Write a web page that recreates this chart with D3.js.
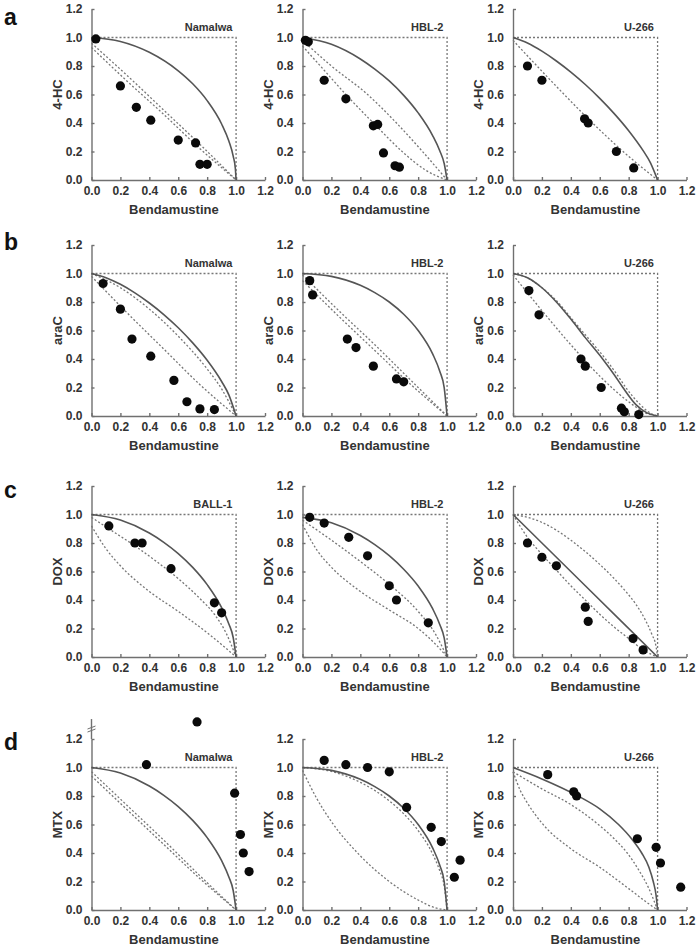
<!DOCTYPE html>
<html><head><meta charset="utf-8">
<script src="https://cdn.jsdelivr.net/npm/d3@7"></script>
<style>body{margin:0;background:#fff} svg{display:block}</style>
</head><body><svg id="c" width="699" height="950"></svg>
<script>
// ---------- DATA ----------
const rowLetters = ["a","b","c","d"];
const drugNames = ["4-HC","araC","DOX","MTX"];
const cellLines = [["Namalwa","HBL-2","U-266"],["Namalwa","HBL-2","U-266"],["BALL-1","HBL-2","U-266"],["Namalwa","HBL-2","U-266"]];
const xTitle = "Bendamustine";
const tickValues = [0,0.2,0.4,0.6,0.8,1.0,1.2];
const tickLabels = ["0.0","0.2","0.4","0.6","0.8","1.0","1.2"];
const boxCorners = [[0,1],[1,1],[1,0]];

// row a : 4-HC
const a1_points = [[0.03,0.99],[0.20,0.66],[0.31,0.51],[0.41,0.42],[0.60,0.28],[0.72,0.26],[0.75,0.11],[0.80,0.11]];
const a1_solid  = [[0,1],[0.2,0.972],[0.4,0.896],[0.6,0.766],[0.7,0.675],[0.8,0.557],[0.9,0.393],[0.95,0.273],[0.98,0.168],[0.995,0.08],[1,0]];
const a1_dotA   = [[0,0.96],[0.25,0.73],[0.5,0.49],[0.75,0.25],[1,0]];
const a1_dotB   = [[0,0.93],[0.25,0.69],[0.5,0.46],[0.75,0.22],[1,0]];

const a2_points = [[0.02,0.98],[0.04,0.97],[0.15,0.70],[0.30,0.57],[0.49,0.38],[0.52,0.39],[0.56,0.19],[0.64,0.10],[0.67,0.09]];
const a2_solid  = [[0,1],[0.2,0.952],[0.4,0.849],[0.5,0.778],[0.6,0.695],[0.7,0.594],[0.8,0.471],[0.9,0.312],[0.95,0.204],[0.98,0.116],[1,0]];
const a2_dotA   = [[0,0.98],[0.2,0.8],[0.45,0.6],[0.65,0.4],[0.83,0.2],[1,0]];
const a2_dotB   = [[0,0.94],[0.15,0.77],[0.3,0.6],[0.5,0.39],[0.7,0.19],[0.85,0.07],[1,0]];

const a3_points = [[0.10,0.80],[0.20,0.70],[0.495,0.43],[0.52,0.40],[0.715,0.20],[0.835,0.085]];
const a3_solid  = [[0,1],[0.1,0.961],[0.2,0.904],[0.3,0.835],[0.4,0.757],[0.5,0.67],[0.6,0.573],[0.7,0.466],[0.8,0.346],[0.9,0.206],[0.95,0.122],[1,0]];
const a3_dotA   = [[0,0.98],[0.25,0.71],[0.5,0.45],[0.75,0.21],[1,0]];

// row b : araC
const b1_points = [[0.08,0.93],[0.20,0.75],[0.28,0.54],[0.41,0.42],[0.57,0.25],[0.66,0.10],[0.75,0.05],[0.85,0.045]];
const b1_solid  = [[0,1],[0.1,0.971],[0.2,0.924],[0.3,0.864],[0.4,0.793],[0.5,0.712],[0.6,0.619],[0.7,0.513],[0.8,0.391],[0.9,0.242],[0.95,0.148],[1,0]];
const b1_dotA   = [[0,1],[0.2,0.9],[0.4,0.75],[0.6,0.56],[0.8,0.33],[0.9,0.19],[1,0]];
const b1_dotB   = [[0,0.98],[0.25,0.72],[0.5,0.47],[0.75,0.22],[1,0]];

const b2_points = [[0.05,0.95],[0.07,0.85],[0.31,0.54],[0.37,0.48],[0.49,0.35],[0.65,0.26],[0.70,0.24]];
const b2_solid  = [[0,1],[0.2,0.98],[0.4,0.917],[0.5,0.866],[0.6,0.8],[0.7,0.714],[0.8,0.6],[0.9,0.436],[0.95,0.312],[0.98,0.199],[1,0]];
const b2_dotA   = [[0,0.99],[0.25,0.74],[0.5,0.5],[0.75,0.25],[1,0]];
const b2_dotB   = [[0,0.95],[0.25,0.7],[0.5,0.46],[0.75,0.22],[1,0]];

const b3_points = [[0.11,0.88],[0.18,0.71],[0.47,0.40],[0.50,0.35],[0.61,0.20],[0.75,0.055],[0.77,0.03],[0.87,0.01]];
const b3_solid  = [[0,1],[0.1,0.97],[0.2,0.9],[0.3,0.8],[0.4,0.68],[0.5,0.55],[0.62,0.4],[0.7,0.29],[0.76,0.2],[0.85,0.08],[0.93,0.02],[1,0]];
const b3_dotA   = [[0,1],[0.1,0.97],[0.2,0.9],[0.3,0.81],[0.4,0.69],[0.5,0.57],[0.64,0.4],[0.72,0.29],[0.78,0.2],[0.88,0.08],[0.95,0.02],[1,0]];
const b3_dotB   = [[0,0.99],[0.2,0.74],[0.4,0.5],[0.6,0.28],[0.8,0.1],[0.92,0.02],[1,0]];

// row c : DOX
const c1_points = [[0.12,0.92],[0.30,0.80],[0.35,0.80],[0.55,0.62],[0.85,0.38],[0.90,0.31]];
const c1_solid  = [[0,1],[0.2,0.961],[0.4,0.87],[0.5,0.805],[0.6,0.726],[0.7,0.629],[0.8,0.508],[0.9,0.346],[0.95,0.232],[0.98,0.137],[1,0]];
const c1_dotA   = [[0,0.98],[0.15,0.88],[0.3,0.78],[0.45,0.67],[0.6,0.55],[0.75,0.41],[0.85,0.3],[0.93,0.17],[1,0]];
const c1_dotB   = [[0,0.92],[0.1,0.76],[0.2,0.64],[0.4,0.46],[0.6,0.32],[0.8,0.17],[0.92,0.07],[1,0]];

const c2_points = [[0.05,0.98],[0.15,0.94],[0.32,0.84],[0.45,0.71],[0.60,0.50],[0.65,0.40],[0.87,0.24]];
const c2_solid  = [[0,0.98],[0.2,0.942],[0.4,0.853],[0.5,0.789],[0.6,0.711],[0.7,0.616],[0.8,0.498],[0.9,0.339],[0.95,0.227],[0.98,0.134],[1,0]];
const c2_dotA   = [[0,0.96],[0.2,0.82],[0.4,0.67],[0.6,0.51],[0.8,0.32],[0.92,0.16],[1,0]];
const c2_dotB   = [[0,0.93],[0.1,0.75],[0.2,0.63],[0.4,0.46],[0.6,0.33],[0.8,0.2],[0.92,0.09],[1,0]];

const c3_points = [[0.10,0.80],[0.20,0.70],[0.30,0.64],[0.50,0.35],[0.52,0.25],[0.83,0.13],[0.90,0.05]];
const c3_solid  = [[0,1],[0.5,0.5],[1,0]];
const c3_dotA   = [[0,1],[0.1,0.98],[0.2,0.945],[0.3,0.89],[0.4,0.82],[0.5,0.74],[0.6,0.65],[0.7,0.55],[0.78,0.46],[0.85,0.37],[0.91,0.27],[0.96,0.16],[0.99,0.07],[1,0]];
const c3_dotB   = [[0,1],[0.1,0.84],[0.2,0.72],[0.3,0.61],[0.4,0.5],[0.5,0.4],[0.6,0.3],[0.7,0.21],[0.8,0.13],[0.9,0.05],[1,0]];

// row d : MTX
const d1_points = [[0.38,1.02],[0.73,1.32],[0.99,0.82],[1.03,0.53],[1.05,0.40],[1.09,0.27]];
const d1_solid  = [[0,1],[0.2,0.961],[0.4,0.87],[0.5,0.805],[0.6,0.726],[0.7,0.629],[0.8,0.508],[0.9,0.346],[0.95,0.232],[0.98,0.137],[1,0]];
const d1_dotA   = [[0,0.97],[0.25,0.73],[0.5,0.49],[0.75,0.24],[1,0]];
const d1_dotB   = [[0,0.94],[0.25,0.7],[0.5,0.46],[0.75,0.22],[1,0]];

const d2_points = [[0.15,1.05],[0.30,1.02],[0.45,1.00],[0.60,0.97],[0.72,0.72],[0.89,0.58],[0.96,0.48],[1.05,0.23],[1.09,0.35]];
const d2_solid  = [[0,1],[0.2,0.98],[0.4,0.917],[0.5,0.866],[0.6,0.8],[0.7,0.714],[0.8,0.6],[0.9,0.436],[0.95,0.312],[0.98,0.199],[1,0]];
const d2_dotA   = [[0,1],[0.2,0.972],[0.4,0.896],[0.6,0.766],[0.7,0.675],[0.8,0.557],[0.9,0.393],[0.95,0.273],[0.98,0.168],[1,0]];
const d2_dotB   = [[0,0.98],[0.1,0.78],[0.2,0.62],[0.4,0.38],[0.6,0.2],[0.8,0.07],[0.92,0.015],[1,0]];

const d3_points = [[0.24,0.95],[0.42,0.83],[0.44,0.80],[0.86,0.50],[0.99,0.44],[1.02,0.33],[1.16,0.16]];
const d3_solid  = [[0,1],[0.2,0.92],[0.45,0.8],[0.6,0.71],[0.73,0.6],[0.82,0.5],[0.89,0.4],[0.94,0.3],[0.97,0.2],[0.99,0.1],[1,0]];
const d3_dotA   = [[0,0.97],[0.2,0.85],[0.4,0.74],[0.59,0.6],[0.7,0.5],[0.79,0.4],[0.87,0.28],[0.94,0.15],[1,0]];
const d3_dotB   = [[0,0.97],[0.05,0.84],[0.1,0.75],[0.2,0.61],[0.4,0.43],[0.6,0.3],[0.8,0.15],[0.93,0.05],[1,0]];

const brokenAxisTop = 1.34;   // d / Namalwa axis extends past 1.2
const brokenAxisMark = 1.27;

// ---------- LAYOUT ----------
const panels = [
  {r:0,c:0,pts:a1_points,solid:a1_solid,dots:[a1_dotA,a1_dotB]},
  {r:0,c:1,pts:a2_points,solid:a2_solid,dots:[a2_dotA,a2_dotB]},
  {r:0,c:2,pts:a3_points,solid:a3_solid,dots:[a3_dotA]},
  {r:1,c:0,pts:b1_points,solid:b1_solid,dots:[b1_dotA,b1_dotB]},
  {r:1,c:1,pts:b2_points,solid:b2_solid,dots:[b2_dotA,b2_dotB]},
  {r:1,c:2,pts:b3_points,solid:b3_solid,dots:[b3_dotA,b3_dotB]},
  {r:2,c:0,pts:c1_points,solid:c1_solid,dots:[c1_dotA,c1_dotB]},
  {r:2,c:1,pts:c2_points,solid:c2_solid,dots:[c2_dotA,c2_dotB]},
  {r:2,c:2,pts:c3_points,solid:c3_solid,dots:[c3_dotA,c3_dotB]},
  {r:3,c:0,pts:d1_points,solid:d1_solid,dots:[d1_dotA,d1_dotB],broken:true},
  {r:3,c:1,pts:d2_points,solid:d2_solid,dots:[d2_dotA,d2_dotB]},
  {r:3,c:2,pts:d3_points,solid:d3_solid,dots:[d3_dotA,d3_dotB]},
];
const colX0 = [91.5, 302.5, 513];
const rowY0 = [180, 416, 657, 910];
const plotW = 173.5, plotH = 171;
const letterY = [25, 250, 498, 750];

const FONT = "'Liberation Sans', Arial, Helvetica, sans-serif";
const TXT = "#333";
const AX = "#707070";

const svg = d3.select("#c");
svg.append("rect").attr("width",699).attr("height",950).attr("fill","#fff");

rowLetters.forEach((L,i)=>{
  svg.append("text").attr("x",4).attr("y",letterY[i]).text(L)
    .attr("font-family",FONT).attr("font-weight","bold").attr("font-size",23).attr("fill","#111");
});

const line = (x,y) => d3.line().x(d=>x(d[0])).y(d=>y(d[1])).curve(d3.curveMonotoneX);

panels.forEach(p=>{
  const x0 = colX0[p.c], y0 = rowY0[p.r];
  const x = d3.scaleLinear().domain([0,1.2]).range([x0, x0+plotW]);
  const y = d3.scaleLinear().domain([0,1.2]).range([y0, y0-plotH]);
  const g = svg.append("g");

  const xa = d3.axisBottom(x).tickValues(tickValues).tickFormat((d,i)=>tickLabels[i])
      .tickSizeInner(-3).tickSizeOuter(0).tickPadding(6);
  const ya = d3.axisLeft(y).tickValues(tickValues).tickFormat((d,i)=>tickLabels[i])
      .tickSizeInner(-3).tickSizeOuter(0).tickPadding(9);
  const gx = g.append("g").attr("transform",`translate(0,${y0})`).call(xa);
  const gy = g.append("g").attr("transform",`translate(${x0},0)`).call(ya);
  [gx,gy].forEach(a=>{
    a.selectAll("path,line").attr("stroke",AX).attr("stroke-width",1.4);
    a.selectAll("text").attr("font-family",FONT).attr("font-weight","bold").attr("font-size",12).attr("fill",TXT);
  });

  if (p.broken) {
    g.append("line").attr("x1",x0).attr("x2",x0).attr("y1",y(1.2)).attr("y2",y(brokenAxisTop))
      .attr("stroke",AX).attr("stroke-width",1.4);
    [-1.5,1.5].forEach(o=>{
      g.append("line").attr("x1",x0-4).attr("x2",x0+4)
        .attr("y1",y(brokenAxisMark)+o+1.5).attr("y2",y(brokenAxisMark)+o-1.5)
        .attr("stroke",AX).attr("stroke-width",1);
    });
  }

  // titles
  g.append("text").attr("x",x(0.57)).attr("y",y0+34).attr("text-anchor","middle").text(xTitle)
    .attr("font-family",FONT).attr("font-weight","bold").attr("font-size",13).attr("fill",TXT);
  g.append("text").attr("transform",`translate(${x0-30},${y(0.6)}) rotate(-90)`).attr("text-anchor","middle").text(drugNames[p.r])
    .attr("font-family",FONT).attr("font-weight","bold").attr("font-size",13).attr("fill",TXT);
  g.append("text").attr("x",x(0.975)).attr("y",y(1.045)).attr("text-anchor","end").text(cellLines[p.r][p.c])
    .attr("font-family",FONT).attr("font-weight","bold").attr("font-size",11).attr("fill",TXT);

  // box
  g.append("path").attr("d",d3.line().x(d=>x(d[0])).y(d=>y(d[1]))(boxCorners))
    .attr("fill","none").attr("stroke","#777").attr("stroke-width",1.3).attr("stroke-dasharray","2,2");
  // dotted envelope lines
  p.dots.forEach(arr=>{
    g.append("path").attr("d",line(x,y)(arr)).attr("fill","none")
      .attr("stroke","#777").attr("stroke-width",1.3).attr("stroke-dasharray","2,2");
  });
  // solid line
  g.append("path").attr("d",line(x,y)(p.solid)).attr("fill","none")
    .attr("stroke","#555").attr("stroke-width",1.6);
  // points
  g.selectAll("circle.pt").data(p.pts).enter().append("circle")
    .attr("cx",d=>x(d[0])).attr("cy",d=>y(d[1])).attr("r",4.6).attr("fill","#0a0a0a");
});
</script></body></html>
